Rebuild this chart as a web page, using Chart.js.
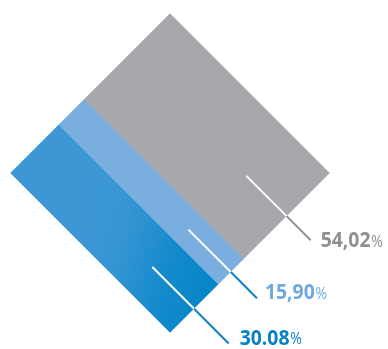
<!DOCTYPE html>
<html>
<head>
<meta charset="utf-8">
<script src="https://cdn.jsdelivr.net/npm/chart.js@4/dist/chart.umd.min.js"></script>
<style>
  html, body { margin: 0; padding: 0; background: #ffffff; }
  #chart { display: block; }
</style>
</head>
<body>
<canvas id="chart" width="388" height="349"></canvas>
<script>
// shares, stacked from the bottom (left corner) up to the top corner
var bandNames = ["blue", "lightblue", "gray"];
var shareValues = [30.08, 15.90, 54.02];
var shareLabels = ["30.08", "15,90", "54,02"];

// styles
var bandColors = ["#3a96d3", "#7aaedf", "#a7a8ab"];
var textColors = ["#0a80c5", "#6eaadf", "#8f9093"];
var leaderColors = ["#0a80c5", "#0a80c5", "#8f9093"];
var leaderInside = [59, 60, 57];
var leaderOutside = [49, 37, 34];
var labelShift = [[11, -5], [8, -5], [10, 1]];

var angle = Math.PI / 4;

function center(chart) {
  var a = chart.chartArea;
  return { x: (a.left + a.right) / 2, y: (a.top + a.bottom) / 2 };
}

// turn a point of the chart area into the rotated picture
function turn(chart, x, y) {
  var c = center(chart);
  var dx = x - c.x, dy = y - c.y;
  return {
    x: c.x + dx * Math.cos(angle) - dy * Math.sin(angle),
    y: c.y + dx * Math.sin(angle) + dy * Math.cos(angle)
  };
}

function blueFill(context) {
  var chart = context.chart;
  var a = chart.chartArea;
  var yScale = chart.scales.y;
  if (!a || !yScale) return bandColors[0];
  var top = yScale.getPixelForValue(shareValues[0]);
  if (!isFinite(top) || !isFinite(a.left) || !isFinite(a.bottom)) return bandColors[0];
  var g = chart.ctx.createLinearGradient(a.right, top, a.left + a.width * 0.45, a.bottom);
  g.addColorStop(0, "#0385c8");
  g.addColorStop(0.35, "#128acc");
  g.addColorStop(0.75, "#3795d3");
  g.addColorStop(1, "#3c97d4");
  return g;
}

var rotatePlugin = {
  id: "rotate",
  beforeDatasetsDraw: function (chart) {
    var ctx = chart.ctx;
    var c = center(chart);
    ctx.save();
    ctx.translate(c.x, c.y);
    ctx.rotate(angle);
    ctx.translate(-c.x, -c.y);
  },
  afterDatasetsDraw: function (chart) {
    var ctx = chart.ctx;
    // leader lines, white inside the band, coloured outside
    chart.data.datasets.forEach(function (ds, i) {
      var el = chart.getDatasetMeta(i).data[0];
      var y = (el.y + el.base) / 2;
      var edge = el.x + el.width / 2;
      ctx.lineWidth = 2;
      ctx.lineCap = "butt";
      ctx.strokeStyle = "#ffffff";
      ctx.beginPath();
      ctx.moveTo(edge - leaderInside[i], y);
      ctx.lineTo(edge, y);
      ctx.stroke();
      ctx.strokeStyle = leaderColors[i];
      ctx.beginPath();
      ctx.moveTo(edge, y);
      ctx.lineTo(edge + leaderOutside[i], y);
      ctx.stroke();
    });
    ctx.restore();
  },
  afterDraw: function (chart) {
    var ctx = chart.ctx;
    chart.data.datasets.forEach(function (ds, i) {
      var el = chart.getDatasetMeta(i).data[0];
      var y = (el.y + el.base) / 2;
      var edge = el.x + el.width / 2;
      var p = turn(chart, edge + leaderOutside[i], y);
      var x0 = p.x + labelShift[i][0];
      var y0 = p.y + labelShift[i][1];
      ctx.save();
      ctx.translate(x0, y0);
      ctx.scale(0.88, 1);
      ctx.fillStyle = textColors[i];
      ctx.textBaseline = "middle";
      ctx.textAlign = "left";
      ctx.font = "bold 22px 'Open Sans'";
      ctx.fillText(shareLabels[i], 0, 0);
      var w = ctx.measureText(shareLabels[i]).width;
      ctx.font = "16px 'Open Sans'";
      ctx.fillText("%", w + 1, 1.5);
      ctx.restore();
    });
  }
};

var ctx = document.getElementById("chart").getContext("2d");
var myChart = new Chart(ctx, {
  type: "bar",
  data: {
    labels: [""],
    datasets: bandNames.map(function (name, i) {
      return {
        label: name,
        data: [shareValues[i]],
        backgroundColor: i === 0 ? blueFill : bandColors[i],
        borderWidth: 0,
        barPercentage: 1,
        categoryPercentage: 1
      };
    })
  },
  options: {
    responsive: false,
    animation: false,
    devicePixelRatio: 1,
    layout: { padding: { left: 57, right: 105, top: 60, bottom: 63 } },
    plugins: { legend: { display: false }, tooltip: { enabled: false } },
    scales: {
      x: { stacked: true, display: false },
      y: { stacked: true, display: false, min: 0, max: 100 }
    }
  },
  plugins: [rotatePlugin]
});
</script>
</body>
</html>
